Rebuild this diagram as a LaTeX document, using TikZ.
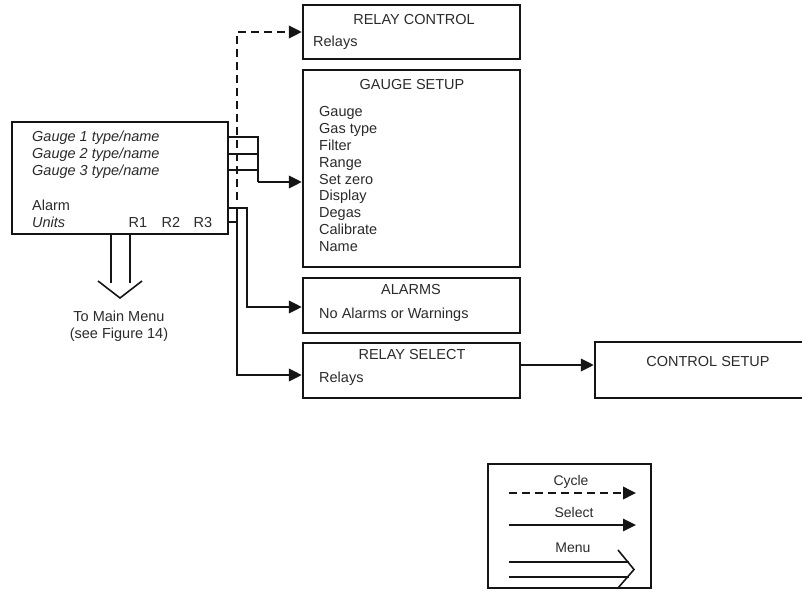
\documentclass[tikz,border=0pt]{standalone}
\usepackage{fontspec}
\setmainfont{Liberation Sans}
\usetikzlibrary{arrows.meta,calc}
\definecolor{txt}{HTML}{2A2A2A}
\definecolor{ln}{HTML}{151515}
\begin{document}
\begin{tikzpicture}[x=1pt,y=-1pt,
  font=\fontsize{14.5}{16}\selectfont, text=txt,
  box/.style={draw=ln, line width=2.4pt, inner sep=0pt},
  thinbox/.style={draw=ln, line width=1.6pt, inner sep=0pt},
  lbl/.style={inner sep=0pt, anchor=west, text height=11.5pt, text depth=2pt},
  ttl/.style={inner sep=0pt, text height=11.5pt, text depth=2pt},
  conn/.style={draw=ln, line width=1.9pt},
  arr/.style={-{Triangle[length=13pt,width=12.5pt]}},
  cyc/.style={dash pattern=on 8pt off 5pt},
  menu/.style={draw=ln, line width=1.6pt},
]
\useasboundingbox (0,0) rectangle (802,593);

% main box
\node[thinbox, minimum width=216pt, minimum height=112pt] (main) at (120,178) {};
\node[lbl] (g1) at (32,137) {\itshape Gauge 1 type/name};
\node[lbl] (g2) at (32,154) {\itshape Gauge 2 type/name};
\node[lbl] (g3) at (32,171) {\itshape Gauge 3 type/name};
\node[lbl] (alarm) at (32,206) {Alarm};
\node[lbl] (units) at (32,223) {\itshape Units};
\node[ttl] (r1) at (138,223) {R1};
\node[ttl] (r2) at (171,223) {R2};
\node[ttl] (r3) at (203,223) {R3};

% right boxes
\node[box, minimum width=217pt, minimum height=54pt] (rc) at (411.5,32) {};
\node[ttl] (rct) at (414,20) {RELAY CONTROL};
\node[lbl] (rcr) at (313,42) {Relays};

\node[box, minimum width=217pt, minimum height=197pt] (gs) at (411.5,168.5) {};
\node[ttl] (gst) at (412,85) {GAUGE SETUP};
\node[lbl] (i1) at (319,112) {Gauge};
\node[lbl] (i2) at (319,129) {Gas type};
\node[lbl] (i3) at (319,146) {Filter};
\node[lbl] (i4) at (319,163) {Range};
\node[lbl] (i5) at (319,180) {Set zero};
\node[lbl] (i6) at (319,196) {Display};
\node[lbl] (i7) at (319,213) {Degas};
\node[lbl] (i8) at (319,230) {Calibrate};
\node[lbl] (i9) at (319,247) {Name};

\node[box, minimum width=217pt, minimum height=55pt] (al) at (411.5,305.5) {};
\node[ttl] (alt) at (411,290) {ALARMS};
\node[lbl] (alr) at (319,314) {No Alarms or Warnings};

\node[box, minimum width=217pt, minimum height=55pt] (rs) at (411.5,370.5) {};
\node[ttl] (rst) at (412,355) {RELAY SELECT};
\node[lbl] (rsr) at (319,378) {Relays};

\node[box, minimum width=210pt, minimum height=56pt] (cs) at (700,370) {};
\node[ttl] (cst) at (708,362) {CONTROL SETUP};

% connectors
\coordinate (dstart) at (237,200);
\draw[conn,cyc,arr] (dstart) |- (rc.west);

\coordinate (jg) at (258,182);
\draw[conn] (main.east |- 0,137) -| (jg);
\draw[conn] (main.east |- 0,154) -- (jg |- 0,154);
\draw[conn] (main.east |- 0,170) -- (jg |- 0,170);
\draw[conn,arr] (jg) -- (gs.west |- jg);

\coordinate (ja) at (247,208);
\draw[conn,arr] (main.east |- ja) -- (ja) |- (al.west |- 0,307);

\coordinate (jr) at (237,222);
\draw[conn] (main.east |- jr) -- (jr);
\draw[conn,arr] (237,208) -- (237,375) -- (rs.west |- 0,375);

\draw[conn,arr] (rs.east |- 0,365) -- (cs.west |- 0,365);

% menu arrow
\draw[menu] (111,234) -- (111,283);
\draw[menu] (130,234) -- (130,283);
\draw[menu] (98,281) -- (120,298) -- (142,281);
\node[ttl] (tm1) at (119,317) {To Main Menu};
\node[ttl] (tm2) at (119,334) {(see Figure 14)};

% legend
\node[thinbox, minimum width=163pt, minimum height=124pt] (leg) at (569.5,526) {};
\node[ttl,font=\fontsize{14}{16}\selectfont] (lc) at (571,481) {Cycle};
\node[ttl,font=\fontsize{14}{16}\selectfont] (ls) at (574,513) {Select};
\node[ttl,font=\fontsize{14}{16}\selectfont] (lm) at (573,548) {Menu};
\coordinate (c1) at (509,493);
\coordinate (c2) at (636,493);
\draw[conn,cyc,arr] (c1) -- (c2);
\coordinate (s1) at (509,525);
\coordinate (s2) at (636,525);
\draw[conn,line width=1.3pt,arr] (s1) -- (s2);
\coordinate (m1) at (509,562);
\coordinate (m2) at (509,577);
\draw[menu] (m1) -- (629,562);
\draw[menu] (m2) -- (629,577);
\draw[menu] (618,550) -- (634,569.5) -- (618,588);
\end{tikzpicture}
\end{document}
